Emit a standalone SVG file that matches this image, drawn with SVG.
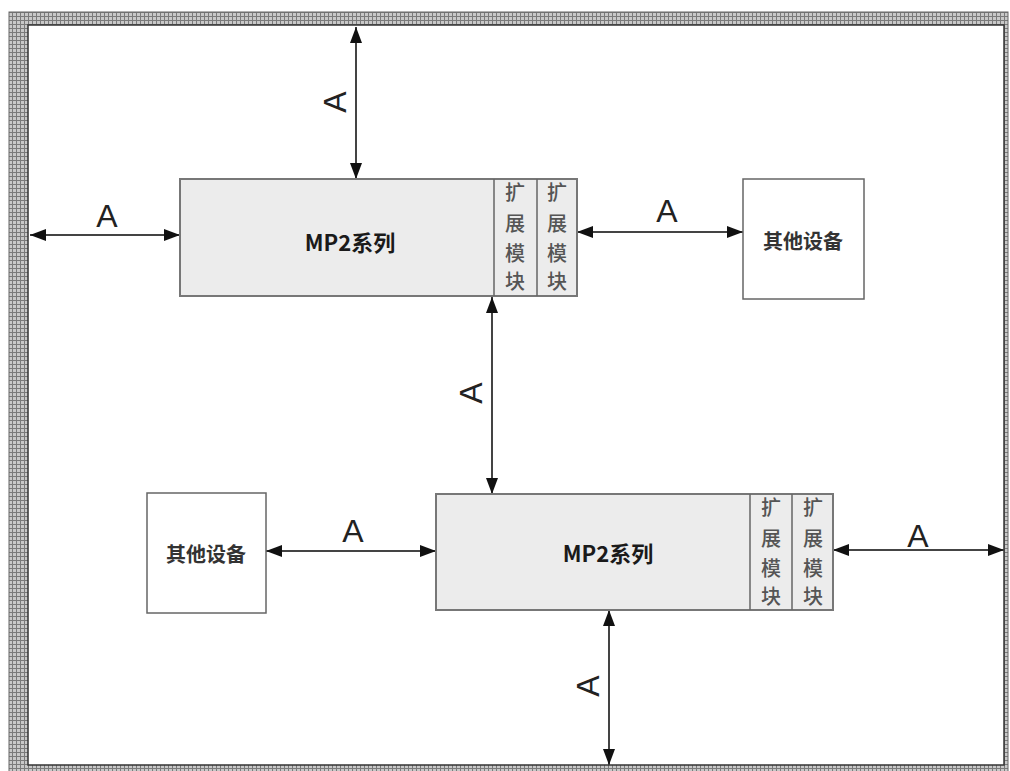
<svg xmlns="http://www.w3.org/2000/svg" width="1010" height="771" viewBox="0 0 1010 771">
<defs>
<pattern id="hatch" width="4" height="4" patternUnits="userSpaceOnUse">
<rect width="4" height="4" fill="#c8c8c8"/>
<path d="M0,0.5 H4 M0.5,0 V4" stroke="#7a7a7a" stroke-width="1"/>
</pattern>
<marker id="ah" viewBox="0 0 16 12" refX="16" refY="6" markerWidth="16" markerHeight="12" markerUnits="userSpaceOnUse" orient="auto-start-reverse">
<path d="M0,0 L16,6 L0,12 z" fill="#111"/>
</marker>
</defs>
<style>
.mp{fill:#ececec;stroke:#777;stroke-width:2}
.dev{fill:#fff;stroke:#666;stroke-width:1.5}
.div{stroke:#666;stroke-width:1.5}
.t{font-family:"Noto Sans CJK SC","Liberation Sans",sans-serif;font-weight:bold;font-size:22px;fill:#1a1a1a;text-anchor:middle;dominant-baseline:central}
.m{font-family:"Noto Sans CJK SC",sans-serif;font-weight:500;font-size:20px;fill:#555;text-anchor:middle;dominant-baseline:central}
.a{font-family:"Liberation Sans",Arial,sans-serif;font-size:32px;fill:#222;text-anchor:middle}
.c{stroke:#444;stroke-width:2;fill:none;marker-start:url(#ah);marker-end:url(#ah)}
</style>
<rect width="1010" height="771" fill="#fff"/>
<g id="frame">
<path d="M9,12 H1008 V771 H9 Z M28,25 V765 H1004 V25 Z" fill="url(#hatch)" fill-rule="evenodd"/>
<rect x="9" y="12" width="999" height="770" fill="none" stroke="#666" stroke-width="1"/>
<rect x="28" y="25" width="976" height="740" fill="none" stroke="#333" stroke-width="1.5"/>
</g>
<g id="connectors">
<line class="c" x1="356" y1="27" x2="356" y2="179"/>
<line class="c" x1="30" y1="235" x2="180" y2="235"/>
<line class="c" x1="577" y1="232" x2="743" y2="232"/>
<line class="c" x1="492" y1="297" x2="492" y2="494"/>
<line class="c" x1="266" y1="551" x2="436" y2="551"/>
<line class="c" x1="833" y1="550" x2="1004" y2="550"/>
<line class="c" x1="609" y1="610" x2="609" y2="765"/>
<text class="a" x="107" y="227">A</text>
<text class="a" x="667" y="222">A</text>
<text class="a" x="353" y="542">A</text>
<text class="a" x="918" y="547">A</text>
<text class="a" transform="translate(346,102) rotate(-90)">A</text>
<text class="a" transform="translate(482,393) rotate(-90)">A</text>
<text class="a" transform="translate(599,686) rotate(-90)">A</text>
</g>
<g id="mp2-top">
<rect class="mp" x="180" y="179" width="397" height="117"/>
<line class="div" x1="494" y1="179" x2="494" y2="296"/>
<line class="div" x1="537" y1="179" x2="537" y2="296"/>
<text class="t" x="350" y="241">MP2系列</text>
<text class="m" x="515" y="191">扩</text><text class="m" x="515" y="222">展</text><text class="m" x="515" y="252">模</text><text class="m" x="515" y="280">块</text>
<text class="m" x="557" y="191">扩</text><text class="m" x="557" y="222">展</text><text class="m" x="557" y="252">模</text><text class="m" x="557" y="280">块</text>
</g>
<g id="mp2-bottom">
<rect class="mp" x="436" y="494" width="397" height="116"/>
<line class="div" x1="750" y1="494" x2="750" y2="610"/>
<line class="div" x1="792" y1="494" x2="792" y2="610"/>
<text class="t" x="608" y="552">MP2系列</text>
<text class="m" x="771" y="506">扩</text><text class="m" x="771" y="537">展</text><text class="m" x="771" y="567">模</text><text class="m" x="771" y="595">块</text>
<text class="m" x="813" y="506">扩</text><text class="m" x="813" y="537">展</text><text class="m" x="813" y="567">模</text><text class="m" x="813" y="595">块</text>
</g>
<g id="device-top">
<rect class="dev" x="743" y="179" width="121" height="120"/>
<text class="t" x="803" y="240" style="font-size:20px;fill:#333">其他设备</text>
</g>
<g id="device-bottom">
<rect class="dev" x="147" y="493" width="119" height="120"/>
<text class="t" x="206" y="553" style="font-size:20px;fill:#333">其他设备</text>
</g>
</svg>
